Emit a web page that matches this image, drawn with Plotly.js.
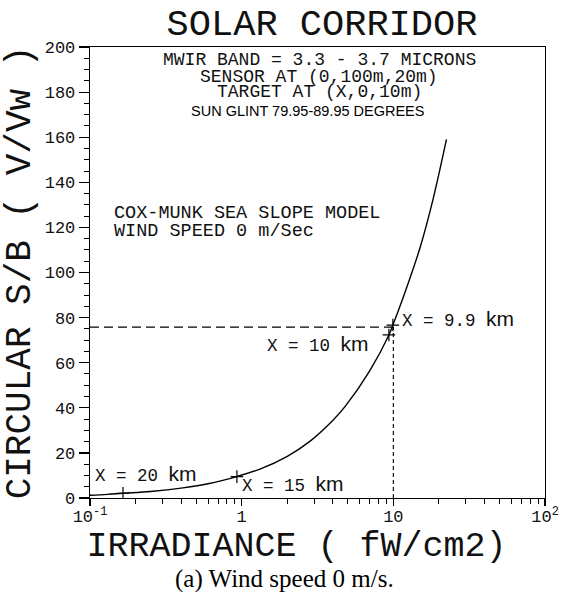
<!DOCTYPE html>
<html>
<head>
<meta charset="utf-8">
<script src="https://cdn.plot.ly/plotly-3.0.1.min.js"></script>
<style>
  html, body { margin: 0; padding: 0; background: #fff; }
  #chart { width: 563px; height: 592px; }
</style>
</head>
<body>
<div id="chart"></div>
<script>
// ---- data ----
const irradiance = [0.1, 0.13, 0.165, 0.25, 0.41, 0.6, 0.93, 1.32, 2.0, 2.8, 4.0, 4.8, 7.0, 9.35, 9.93, 11.2, 12.2, 15, 18.2, 22.4];
const circularSB = [1.2, 1.6, 2.1, 2.9, 4.5, 6.3, 9.5, 12.8, 18.5, 25, 34.5, 40.5, 56.5, 72.3, 76.7, 86, 93, 111, 132, 159];

const markerIrr = [0.165, 0.93, 9.35, 9.93];
const markerSB  = [2.1, 9.5, 72.3, 76.7];
const markerLabels = ["X = 20 km", "X = 15 km", "X = 10 km", "X = 9.9 km"];

const refIrr = 10;     // vertical dashed line
const refSB = 75.8;    // horizontal dashed line
const axisMinIrr = 0.1;

const xTickVals = [0.1, 1, 10, 100];
const xTickText = ["10<sup>-1</sup>", "1", "10", "10<sup>2</sup>"];
const yTickVals = [0, 20, 40, 60, 80, 100, 120, 140, 160, 180, 200];

const infoLines = [
  "MWIR BAND = 3.3 - 3.7 MICRONS",
  "SENSOR AT (0,100m,20m)",
  "TARGET AT (X,0,10m)"
];
const glintLine = "SUN GLINT 79.95-89.95 DEGREES";
const modelLines = ["COX-MUNK SEA SLOPE MODEL", "WIND SPEED 0 m/Sec"];

// ---- styling ----
const MONO = "Liberation Mono, DejaVu Sans Mono, monospace";
const SANS = "Liberation Sans, Arial, sans-serif";
const INK = "#111";

const minorX = [];
[0.1, 1, 10].forEach(d => { for (let k = 2; k <= 9; k++) minorX.push(+(d * k).toFixed(3)); });

const traces = [
  {
    x: irradiance, y: circularSB, type: "scatter", mode: "lines",
    line: { color: "#000", width: 1.4, shape: "spline", smoothing: 1 },
    hoverinfo: "skip"
  },
  {
    x: [axisMinIrr, refIrr], y: [refSB, refSB], type: "scatter", mode: "lines",
    line: { color: "#000", width: 1.3, dash: "9px,5px" }, hoverinfo: "skip"
  },
  {
    x: [refIrr, refIrr], y: [0, refSB], type: "scatter", mode: "lines",
    line: { color: "#000", width: 1.1, dash: "4px,3px" }, hoverinfo: "skip"
  },
  {
    x: markerIrr, y: markerSB, type: "scatter", mode: "markers",
    marker: { symbol: "cross-thin", size: 9, color: "#000", line: { color: "#000", width: 1.2 } },
    text: markerLabels, hoverinfo: "text"
  }
];

function px2paperX(px) { return (px - 90) / 455; }
function px2paperY(py) { return (498 - py) / 451; }

function kmLabel(t) {
  const parts = t.split(" km");
  return parts[0] + ' <span style="font-family:Liberation Sans, Arial, sans-serif;font-size:21px">km</span>';
}

const annotations = [];
const labelPos = [[93, 474], [240, 484], [265, 344], [400, 319]];
markerLabels.forEach((t, i) => {
  annotations.push({
    xref: "paper", yref: "paper",
    x: px2paperX(labelPos[i][0]), y: px2paperY(labelPos[i][1]),
    xanchor: "left", yanchor: "middle", showarrow: false,
    text: kmLabel(t), font: { family: MONO, size: 17.5, color: INK }
  });
});
const infoY = [60, 77, 92];
infoLines.forEach((t, i) => {
  annotations.push({
    xref: "paper", yref: "paper", x: px2paperX(319), y: px2paperY(infoY[i]),
    xanchor: "center", yanchor: "middle", showarrow: false,
    text: t, font: { family: MONO, size: 18, color: INK }
  });
});
annotations.push({
  xref: "paper", yref: "paper", x: px2paperX(307), y: px2paperY(111),
  xanchor: "center", yanchor: "middle", showarrow: false,
  text: glintLine, font: { family: SANS, size: 14.5, color: "#000" }
});
const modelY = [214, 231];
modelLines.forEach((t, i) => {
  annotations.push({
    xref: "paper", yref: "paper", x: px2paperX(112), y: px2paperY(modelY[i]),
    xanchor: "left", yanchor: "middle", showarrow: false,
    text: t, font: { family: MONO, size: 18.5, color: INK }
  });
});
annotations.push({
  xref: "paper", yref: "paper", x: px2paperX(284), y: px2paperY(579),
  xanchor: "center", yanchor: "middle", showarrow: false,
  text: "(a) Wind speed 0 m/s.", font: { family: "Liberation Serif, Times New Roman, serif", size: 25, color: "#000" }
});

const layout = {
  width: 563, height: 592,
  margin: { l: 90, r: 18, t: 47, b: 94 },
  paper_bgcolor: "#fff", plot_bgcolor: "#fff",
  showlegend: false,
  title: {
    text: "SOLAR CORRIDOR",
    font: { family: MONO, size: 37, color: INK },
    x: 322 / 563, xanchor: "center", xref: "container",
    y: 1 - 22 / 592, yanchor: "middle", yref: "container"
  },
  xaxis: {
    type: "log", range: [-1, 2], autorange: false,
    tickmode: "array", tickvals: xTickVals, ticktext: xTickText,
    ticks: "outside", ticklen: 7, tickwidth: 1.2, tickcolor: "#000",
    ticklabelstandoff: -5,
    minor: { tickmode: "array", tickvals: minorX, ticks: "outside", ticklen: 5, tickwidth: 1, tickcolor: "#000", showgrid: false },
    showline: true, mirror: true, linecolor: "#000", linewidth: 1.3,
    showgrid: false, zeroline: false,
    tickfont: { family: MONO, size: 17, color: INK },
    title: { text: "IRRADIANCE ( fW/cm2)&nbsp;&nbsp;", font: { family: MONO, size: 35, color: INK }, standoff: 1 },
    automargin: false
  },
  yaxis: {
    range: [0, 200], autorange: false,
    tickmode: "array", tickvals: yTickVals,
    ticks: "outside", ticklen: 10, tickwidth: 1.2, tickcolor: "#000",
    minor: { dtick: 5, ticks: "outside", ticklen: 5, tickwidth: 1, tickcolor: "#000", showgrid: false },
    showline: true, mirror: true, linecolor: "#000", linewidth: 1.3,
    showgrid: false, zeroline: false,
    tickfont: { family: MONO, size: 17, color: INK },
    title: { text: "CIRCULAR S/B ( V/Vw )", font: { family: MONO, size: 36, color: INK }, standoff: 4 },
    automargin: false
  },
  annotations: annotations
};

Plotly.newPlot("chart", traces, layout, { displayModeBar: false, staticPlot: true });
</script>
</body>
</html>
